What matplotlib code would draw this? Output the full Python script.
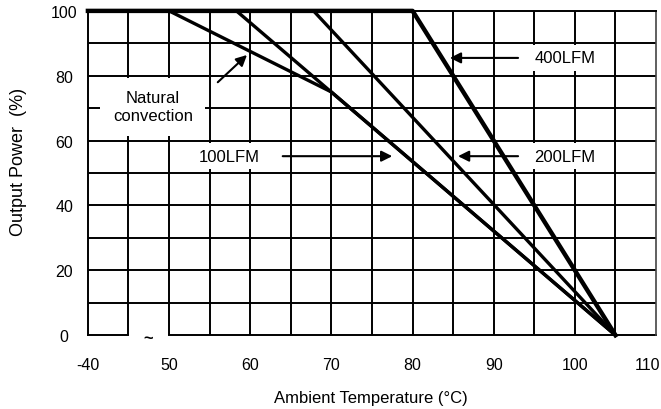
import matplotlib.pyplot as plt
import matplotlib as mpl
import matplotlib.transforms as mtransforms
import numpy as np

mpl.rcParams['font.family'] = ['Liberation Sans', 'DejaVu Sans']
mpl.rcParams['font.size'] = 12

# derating curves (ambient temperature in degC, output power in %)
natural_t = [-40, 50, 70, 105]
natural_p = [100, 100, 75, 0]
lfm100_t = [-40, 58.3, 105]
lfm100_p = [100, 100, 0]
lfm200_t = [-40, 67.8, 105]
lfm200_p = [100, 100, 0]
lfm400_t = [-40, 80, 105]
lfm400_p = [100, 100, 0]

x_ticks = [-40, 50, 60, 70, 80, 90, 100, 110]
x_tick_labels = ['-40', '50', '60', '70', '80', '90', '100', '110']
y_ticks = [0, 20, 40, 60, 80, 100]


def pos(t):
    # broken axis: -40 is drawn one grid column left of the break at 45
    t = np.asarray(t, dtype=float)
    return np.where(t < 45, t + 80, t)


fig = plt.figure(figsize=(6.61, 4.10), dpi=100)
ax = fig.add_axes([0.133, 0.180, 0.8595, 0.791])

ax.set_xlim(40, 110)
ax.set_ylim(0, 100)

# grid
for yv in range(10, 100, 10):
    ax.axhline(yv, color='black', lw=1.4, zorder=1)
for xv in range(45, 110, 5):
    ax.axvline(xv, color='black', lw=1.4, zorder=1)

# broken bottom axis
ax.spines['bottom'].set_visible(False)
ax.plot([40, 45], [0, 0], color='black', lw=1.4, clip_on=False, zorder=2)
ax.plot([50, 110], [0, 0], color='black', lw=1.4, clip_on=False, zorder=2)
ax.text(47.4, -0.8, '~', ha='center', va='center', fontsize=12, fontweight='bold')

for side in ['left', 'top']:
    ax.spines[side].set_linewidth(1.4)
ax.spines['right'].set_linewidth(1.2)
ax.spines['right'].set_color('#444444')

# curves
ax.plot(pos(natural_t), natural_p, color='black', lw=2.4, zorder=3, clip_on=False)
ax.plot(pos(lfm100_t), lfm100_p, color='black', lw=2.4, zorder=3, clip_on=False)
ax.plot(pos(lfm200_t), lfm200_p, color='black', lw=2.4, zorder=3, clip_on=False)
ax.plot(pos(lfm400_t), lfm400_p, color='black', lw=3.2, zorder=3, clip_on=False)

# x tick labels, last one nudged left so it stays inside the figure
ax.set_xticks(pos(x_ticks))
ax.set_xticklabels(x_tick_labels[:-1] + [''])
ax.set_yticks(y_ticks)
ax.tick_params(length=0, labelsize=11.5)
ax.tick_params(axis='x', pad=16)
ax.tick_params(axis='y', pad=17)
for lab in ax.get_yticklabels():
    lab.set_horizontalalignment('center')
trans = mtransforms.offset_copy(ax.get_xaxis_transform(), fig=fig, x=4, y=-22, units='dots')
ax.text(pos(x_ticks[-1]), 0, x_tick_labels[-1], transform=trans, ha='right', va='top', fontsize=11.5)

ax.set_xlabel('Ambient Temperature (°C)', fontsize=12)
ax.xaxis.label.set_va('center')
ax.xaxis.set_label_coords(0.498, -0.191)
ax.set_ylabel('Output Power  (%)', fontsize=13)
ax.yaxis.label.set_va('center')
ax.yaxis.set_label_coords(-0.1215, 0.537)

box = dict(facecolor='white', edgecolor='none', pad=4)
arrow = dict(arrowstyle='-|>', color='black', lw=1.5, mutation_scale=16, shrinkA=0, shrinkB=0)

ax.text(48.0, 70.5, 'Natural\nconvection', ha='center', va='center',
        bbox=dict(facecolor='white', edgecolor='none', pad=9), zorder=4, linespacing=1.25)
ax.annotate('', xy=(59.6, 86.4), xytext=(56.0, 78.0), arrowprops=arrow, zorder=5)

ax.text(57.4, 55.2, '100LFM', ha='center', va='center', bbox=box, zorder=4)
ax.annotate('', xy=(77.5, 55.2), xytext=(64.0, 55.2), arrowprops=arrow, zorder=5)

ax.text(98.8, 85.5, '400LFM', ha='center', va='center', bbox=box, zorder=4)
ax.annotate('', xy=(84.6, 85.5), xytext=(93.0, 85.5), arrowprops=arrow, zorder=5)

ax.text(98.8, 55.2, '200LFM', ha='center', va='center', bbox=box, zorder=4)
ax.annotate('', xy=(85.6, 55.2), xytext=(93.0, 55.2), arrowprops=arrow, zorder=5)

plt.savefig('out.png', dpi=100)
